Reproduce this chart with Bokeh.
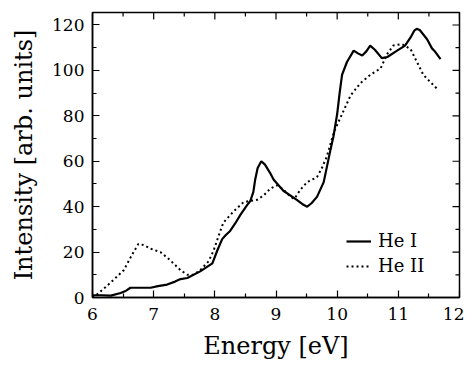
import math
from bokeh.plotting import figure
from bokeh.models import Range1d, Legend, LegendItem, FixedTicker
from bokeh.embed import file_html
from bokeh.resources import INLINE

he1_x = [6.0, 6.15, 6.3, 6.46, 6.55, 6.62, 6.95, 7.07, 7.22, 7.35, 7.44, 7.55, 7.76, 7.96, 8.04, 8.12, 8.18,
         8.25, 8.33, 8.42, 8.53, 8.58, 8.63, 8.66, 8.7, 8.76, 8.82, 8.9, 8.96, 9.12, 9.34, 9.45, 9.51, 9.58,
         9.67, 9.78, 9.89, 9.94, 10.0, 10.04, 10.08, 10.16, 10.27, 10.34, 10.41, 10.48, 10.54, 10.62, 10.73,
         10.82, 10.98, 11.11, 11.2, 11.26, 11.3, 11.35, 11.47, 11.55, 11.6, 11.69]
he1_y = [1, 1, 0.8, 2, 3, 4.3, 4.3, 5, 5.7, 7, 8.1, 8.6, 11.5, 15, 20.7, 25.7, 27.5,
         29.3, 32.5, 36.5, 40.8, 42.5, 46.5, 52, 57, 60, 58.5, 55, 52, 47, 43, 40.8, 40, 41.5,
         44.3, 50.8, 65, 71, 80.8, 90, 98, 103.7, 108.7, 107.5, 106.6, 108.5, 110.9, 109, 105.4,
         105.9, 108.7, 110.9, 114.5, 117.5, 118.3, 117.8, 113.7, 109.7, 108.3, 105]

he2_x = [6.0, 6.05, 6.29, 6.51, 6.65, 6.75, 6.85, 6.95, 7.11, 7.27, 7.44, 7.55, 7.65, 7.76, 7.9, 7.98, 8.06,
         8.14, 8.31, 8.47, 8.69, 8.8, 8.91, 9.02, 9.12, 9.24, 9.3, 9.4, 9.51, 9.67, 9.75, 9.83, 9.95, 10.05,
         10.22, 10.38, 10.54, 10.71, 10.82, 10.92, 11.06, 11.2, 11.28, 11.41, 11.52, 11.63]
he2_y = [0, 0.8, 6.4, 12, 19, 23.6, 23, 21.5, 20, 16.4, 12, 10, 10, 12, 16, 20.7, 27,
         33, 38, 42, 43, 45, 48, 49.4, 47.5, 44.3, 43.5, 47.5, 50.8, 53, 57, 62, 73, 79,
         89, 94.4, 98, 100.9, 107.3, 111, 111.6, 109.4, 105, 98, 95, 92]

x_ticks = [6, 7, 8, 9, 10, 11, 12]
x_minor = [6.5, 7.5, 8.5, 9.5, 10.5, 11.5]
y_ticks = [0, 20, 40, 60, 80, 100, 120]
y_minor = [10, 30, 50, 70, 90, 110]
X_MIN, X_MAX = 6, 12
Y_MIN, Y_MAX = 0, 125.5

FONT = "DejaVu Serif"

p = figure(width=464, height=362, output_backend="svg", toolbar_location=None,
           x_range=Range1d(X_MIN, X_MAX), y_range=Range1d(Y_MIN, Y_MAX),
           min_border_left=92, min_border_right=5, min_border_top=12, min_border_bottom=57)
p.xgrid.visible = False
p.ygrid.visible = False
p.outline_line_color = "black"
p.outline_line_width = 1.5
p.background_fill_color = "white"
p.border_fill_color = "white"

xt = FixedTicker(ticks=x_ticks, minor_ticks=x_minor)
yt = FixedTicker(ticks=y_ticks, minor_ticks=y_minor)

for ax in (p.xaxis[0], p.yaxis[0]):
    ax.major_tick_in = 7
    ax.major_tick_out = 0
    ax.minor_tick_in = 4
    ax.minor_tick_out = 0
    ax.axis_line_width = 1.5
    ax.major_tick_line_width = 1.2
    ax.minor_tick_line_width = 1.2
    ax.major_label_text_font = FONT
    ax.major_label_text_font_size = "17px"
    ax.major_label_text_color = "black"
    ax.axis_label_text_font = FONT
    ax.axis_label_text_font_size = "24px"
    ax.axis_label_text_font_style = "normal"
    ax.axis_label_text_color = "black"

p.xaxis.ticker = xt
p.yaxis.ticker = yt
p.xaxis.axis_label = "Energy [eV]"
p.yaxis.axis_label = "Intensity [arb. units]"
p.xaxis.major_label_standoff = 10
p.yaxis.major_label_standoff = 8
p.xaxis.axis_label_standoff = 9
p.yaxis.axis_label_standoff = 11

# mirrored ticks on the top and right frame edges
p.ray(x=x_ticks, y=[Y_MAX] * len(x_ticks), length=7, length_units="screen", angle=-math.pi / 2,
      line_color="black", line_width=1.2)
p.ray(x=x_minor, y=[Y_MAX] * len(x_minor), length=4, length_units="screen", angle=-math.pi / 2,
      line_color="black", line_width=1.2)
p.ray(x=[X_MAX] * len(y_ticks), y=y_ticks, length=7, length_units="screen", angle=math.pi,
      line_color="black", line_width=1.2)
p.ray(x=[X_MAX] * len(y_minor), y=y_minor, length=4, length_units="screen", angle=math.pi,
      line_color="black", line_width=1.2)

r1 = p.line(he1_x, he1_y, line_color="black", line_width=2.2)
r2 = p.line(he2_x, he2_y, line_color="black", line_width=2, line_dash="2 3")

leg = Legend(items=[LegendItem(label="He I", renderers=[r1]), LegendItem(label="He II", renderers=[r2])],
             location=(244, 11))
leg.background_fill_alpha = 0
leg.border_line_alpha = 0
leg.label_text_font = FONT
leg.label_text_font_size = "18px"
leg.label_text_color = "black"
leg.glyph_width = 25
leg.label_standoff = 7
leg.spacing = 4
p.add_layout(leg)

open("out.html", "w").write(file_html(p, INLINE))
